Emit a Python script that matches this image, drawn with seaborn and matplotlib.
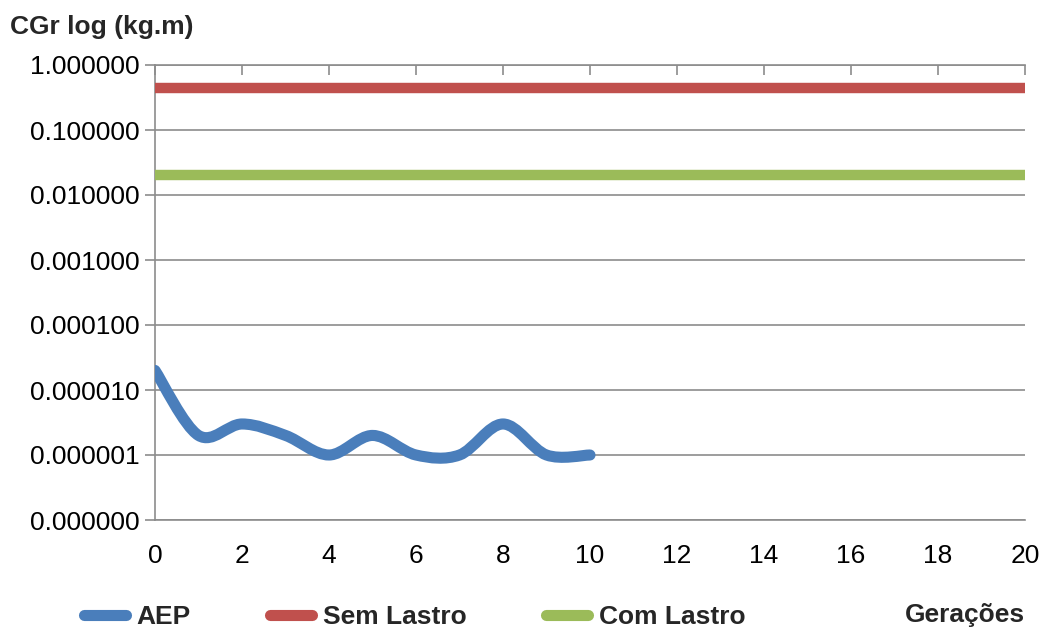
import numpy as np
import pandas as pd
import matplotlib
matplotlib.use("Agg")
import matplotlib.pyplot as plt
from matplotlib.path import Path
from matplotlib.patches import PathPatch
from matplotlib.lines import Line2D
from matplotlib.ticker import FixedLocator, FuncFormatter
import seaborn as sns

# Generations and series values
geracoes_aep = [0, 1, 2, 3, 4, 5, 6, 7, 8, 9, 10]
aep = [2e-5, 2e-6, 3e-6, 2e-6, 1e-6, 2e-6, 1e-6, 1e-6, 3e-6, 1e-6, 1e-6]
geracoes_ref = [0, 20]
sem_lastro = [0.44, 0.44]
com_lastro = [0.02, 0.02]
y_ticks = [1e-7, 1e-6, 1e-5, 1e-4, 1e-3, 1e-2, 1e-1, 1.0]
x_ticks = [0, 2, 4, 6, 8, 10, 12, 14, 16, 18, 20]

COL_AEP = "#4A7EBB"
COL_SEM = "#C0504D"
COL_COM = "#9BBB59"
GRID = "#8C8C8C"

sns.set_theme(style="white")
plt.rcParams["font.family"] = ["Liberation Sans", "DejaVu Sans"]

fig = plt.figure(figsize=(10.45, 6.31), dpi=100)
ax = fig.add_axes([155 / 1045, 1 - 520 / 631, 870 / 1045, 455 / 631])

ref = pd.DataFrame({"x": geracoes_ref + geracoes_ref,
                    "y": sem_lastro + com_lastro,
                    "serie": ["Sem Lastro"] * 2 + ["Com Lastro"] * 2})
sns.lineplot(data=ref, x="x", y="y", hue="serie",
             palette={"Sem Lastro": COL_SEM, "Com Lastro": COL_COM},
             linewidth=7.5, legend=False, ax=ax, zorder=3)
for ln in ax.get_lines():
    ln.set_solid_capstyle("butt")

# Smoothed AEP curve: cubic Bezier segments built in (x, log10 y) space
xs = np.array(geracoes_aep, dtype=float)
ls = np.log10(np.array(aep, dtype=float))
n = len(xs)
verts = [(xs[0], 10 ** ls[0])]
codes = [Path.MOVETO]
for i in range(n - 1):
    x0, y0 = (xs[i - 1], ls[i - 1]) if i > 0 else (xs[i], ls[i])
    x1, y1 = xs[i], ls[i]
    x2, y2 = xs[i + 1], ls[i + 1]
    x3, y3 = (xs[i + 2], ls[i + 2]) if i + 2 < n else (xs[i + 1], ls[i + 1])
    c1 = (x1 + (x2 - x0) / 6, y1 + (y2 - y0) / 6)
    c2 = (x2 - (x3 - x1) / 6, y2 - (y3 - y1) / 6)
    verts += [(c1[0], 10 ** c1[1]), (c2[0], 10 ** c2[1]), (x2, 10 ** y2)]
    codes += [Path.CURVE4] * 3
ax.add_patch(PathPatch(Path(verts, codes), fill=False, edgecolor=COL_AEP,
                       linewidth=8, capstyle="round", joinstyle="round",
                       zorder=4))

ax.set_yscale("log")
ax.set_ylim(1e-7, 1.0)
ax.set_xlim(0, 20)
ax.yaxis.set_major_locator(FixedLocator(y_ticks))
ax.yaxis.set_minor_locator(FixedLocator([]))
ax.yaxis.set_major_formatter(FuncFormatter(lambda v, p: f"{v:.6f}"))
ax.xaxis.set_major_locator(FixedLocator(x_ticks))
ax.set_xticklabels([str(t) for t in x_ticks])
ax.grid(axis="y", color=GRID, linewidth=1.2)
ax.grid(axis="x", visible=False)
ax.set_xlabel("")
ax.set_ylabel("")

for side in ["left", "bottom", "top"]:
    ax.spines[side].set_visible(True)
    ax.spines[side].set_color(GRID)
    ax.spines[side].set_linewidth(1.2)
ax.spines["right"].set_visible(False)

ax.tick_params(axis="y", direction="out", length=7, width=1.2, color=GRID,
               labelsize=19, labelcolor="black", pad=4, left=True)
ax.tick_params(axis="x", bottom=False, top=True, labelbottom=True,
               labeltop=False, direction="in", length=7, width=1.2,
               color=GRID, labelsize=19, labelcolor="black", pad=17)

fig.text(10 / 1045, 1 - 27 / 631, "CGr log (kg.m)", fontsize=19,
         fontweight="bold", ha="left", va="center")
fig.text(1025 / 1045, 1 - 615 / 631, "Gerações", fontsize=19,
         fontweight="bold", ha="right", va="center")

handles = [Line2D([], [], color=COL_AEP, linewidth=8, solid_capstyle="round"),
           Line2D([], [], color=COL_SEM, linewidth=8, solid_capstyle="round"),
           Line2D([], [], color=COL_COM, linewidth=8, solid_capstyle="round")]
fig.legend(handles, ["AEP", "Sem Lastro", "Com Lastro"], ncol=3,
           loc="center left", bbox_to_anchor=(84 / 1045, 1 - 617 / 631),
           frameon=False, prop={"size": 19, "weight": "bold"},
           handlelength=1.6, handletextpad=0.4, columnspacing=3.0,
           borderaxespad=0, borderpad=0)

fig.savefig("out.png", dpi=100)
